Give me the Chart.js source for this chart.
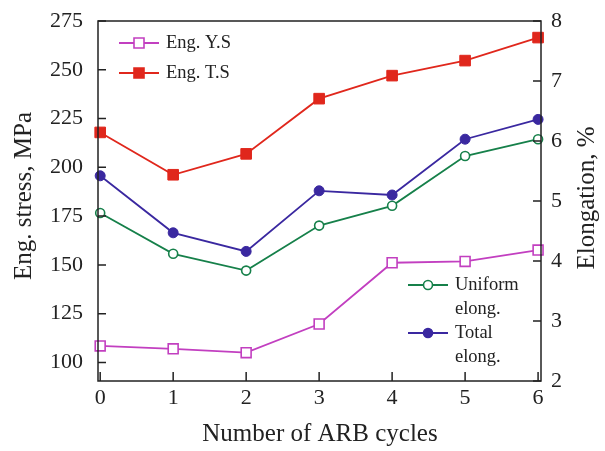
<!DOCTYPE html>
<html lang="en">
<head>
  <meta charset="UTF-8">
  <title>Stress and elongation vs ARB cycles</title>
  <script src="https://cdn.jsdelivr.net/npm/chart.js"></script>
  <style>
    html, body { margin: 0; padding: 0; background: #fff; }
    #wrap { width: 605px; height: 451px; position: relative; }
  </style>
</head>
<body>
  <div id="wrap"><canvas id="chart" width="605" height="451"></canvas></div>

  <script>
    // data
    const cycles = [0, 1, 2, 3, 4, 5, 6];
    const yieldStress = [108.5, 107, 105, 119.7, 151.1, 151.8, 157.6];      // Eng. Y.S, MPa
    const tensileStress = [217.9, 196.2, 206.9, 235.2, 247, 254.7, 266.5];  // Eng. T.S, MPa
    const uniformElong = [4.80, 4.12, 3.84, 4.59, 4.92, 5.75, 6.03];        // %
    const totalElong = [5.42, 4.47, 4.16, 5.17, 5.10, 6.03, 6.36];          // %

    const cycleTicks = [0, 1, 2, 3, 4, 5, 6];
    const stressTicks = [100, 125, 150, 175, 200, 225, 250, 275];
    const elongTicks = [2, 3, 4, 5, 6, 7, 8];

    const FONT = '"Liberation Serif", "DejaVu Serif", serif';
    const INK = '#222';

    const toXY = (ys) => ys.map((y, i) => ({ x: cycles[i], y: y }));

    function drawMarker(ctx, style, filled, color, x, y) {
      ctx.save();
      ctx.lineWidth = 1.6;
      ctx.strokeStyle = color;
      ctx.fillStyle = filled ? color : '#fff';
      ctx.beginPath();
      if (style === 'rect') {
        ctx.rect(x - 5, y - 5, 10, 10);
      } else {
        ctx.arc(x, y, 4.5, 0, Math.PI * 2);
      }
      ctx.fill();
      ctx.stroke();
      ctx.restore();
    }

    // no extra room for overflowing tick labels, the frame is placed by hand
    function fixVertical(width) {
      return s => { s.width = width; s.paddingTop = 0; s.paddingBottom = 0; };
    }

    // frame, inward ticks, axis titles and in-plot legends
    const decorPlugin = {
      id: 'decor',
      afterDraw(chart) {
        const ctx = chart.ctx;
        const a = chart.chartArea;
        const sx = chart.scales.x, sl = chart.scales.yL, sr = chart.scales.yR;
        ctx.save();
        ctx.strokeStyle = INK;
        ctx.lineWidth = 1.5;
        ctx.strokeRect(a.left, a.top, a.right - a.left, a.bottom - a.top);

        ctx.beginPath();
        stressTicks.forEach(v => {
          const y = sl.getPixelForValue(v);
          ctx.moveTo(a.left, y); ctx.lineTo(a.left + 8, y);
        });
        elongTicks.forEach(v => {
          const y = sr.getPixelForValue(v);
          ctx.moveTo(a.right, y); ctx.lineTo(a.right - 8, y);
        });
        cycleTicks.forEach(v => {
          const x = sx.getPixelForValue(v);
          ctx.moveTo(x, a.bottom); ctx.lineTo(x, a.bottom - 9);
        });
        ctx.stroke();

        // axis titles
        ctx.fillStyle = INK;
        ctx.font = '25px ' + FONT;
        ctx.textAlign = 'center';
        ctx.textBaseline = 'middle';
        ctx.fillText('Number of ARB cycles', 320, 434);

        ctx.save();
        ctx.translate(24, 196);
        ctx.rotate(-Math.PI / 2);
        ctx.fillText('Eng. stress, MPa', 0, 0);
        ctx.restore();

        ctx.save();
        ctx.translate(587, 198);
        ctx.rotate(-Math.PI / 2);
        ctx.fillText('Elongation, %', 0, 0);
        ctx.restore();

        // legends
        const legend = [
          { ds: 0, x: 119, y: 43, lines: ['Eng. Y.S'] },
          { ds: 1, x: 119, y: 73, lines: ['Eng. T.S'] },
          { ds: 2, x: 408, y: 285, lines: ['Uniform', 'elong.'] },
          { ds: 3, x: 408, y: 333, lines: ['Total', 'elong.'] }
        ];
        ctx.font = '18.5px ' + FONT;
        ctx.textAlign = 'left';
        legend.forEach(item => {
          const d = chart.data.datasets[item.ds];
          ctx.strokeStyle = d.borderColor;
          ctx.lineWidth = 1.8;
          ctx.beginPath();
          ctx.moveTo(item.x, item.y);
          ctx.lineTo(item.x + 40, item.y);
          ctx.stroke();
          drawMarker(ctx, d.pointStyle, d.pointBackgroundColor !== '#fff', d.borderColor, item.x + 20, item.y);
          ctx.fillStyle = INK;
          item.lines.forEach((t, k) => ctx.fillText(t, item.x + 47, item.y + k * 24));
        });
        ctx.restore();
      }
    };

    const ctx = document.getElementById('chart').getContext('2d');
    new Chart(ctx, {
      type: 'line',
      data: {
        datasets: [
          {
            label: 'Eng. Y.S',
            data: toXY(yieldStress),
            yAxisID: 'yL',
            borderColor: '#c23fc0',
            pointBackgroundColor: '#fff',
            pointStyle: 'rect',
            pointRadius: 7,
            pointBorderWidth: 1.6
          },
          {
            label: 'Eng. T.S',
            data: toXY(tensileStress),
            yAxisID: 'yL',
            borderColor: '#e0271c',
            pointBackgroundColor: '#e0271c',
            pointStyle: 'rect',
            pointRadius: 7.5,
            pointBorderWidth: 1
          },
          {
            label: 'Uniform elong.',
            data: toXY(uniformElong),
            yAxisID: 'yR',
            borderColor: '#16804a',
            pointBackgroundColor: '#fff',
            pointStyle: 'circle',
            pointRadius: 4.5,
            pointBorderWidth: 1.6
          },
          {
            label: 'Total elong.',
            data: toXY(totalElong),
            yAxisID: 'yR',
            borderColor: '#3a28a0',
            pointBackgroundColor: '#3a28a0',
            pointStyle: 'circle',
            pointRadius: 5,
            pointBorderWidth: 1
          }
        ]
      },
      options: {
        responsive: false,
        animation: false,
        clip: false,
        datasets: { line: { borderWidth: 1.8, tension: 0, fill: false } },
        layout: { padding: { top: 21, left: 0, right: 0, bottom: 0 } },
        plugins: { legend: { display: false }, tooltip: { enabled: false } },
        scales: {
          x: {
            type: 'linear',
            min: -0.03,
            max: 6.04,
            afterBuildTicks: s => { s.ticks = cycleTicks.map(v => ({ value: v })); },
            afterFit: s => { s.height = 70; s.paddingLeft = 0; s.paddingRight = 0; },
            grid: { display: false, drawTicks: false },
            border: { display: false },
            ticks: { color: INK, font: { family: FONT, size: 22 }, padding: 4, maxRotation: 0 }
          },
          yL: {
            type: 'linear',
            position: 'left',
            min: 90.5,
            max: 275,
            afterBuildTicks: s => { s.ticks = stressTicks.map(v => ({ value: v })); },
            afterFit: fixVertical(98),
            grid: { display: false, drawTicks: false },
            border: { display: false },
            ticks: { color: INK, font: { family: FONT, size: 22 }, padding: 15 }
          },
          yR: {
            type: 'linear',
            position: 'right',
            min: 2,
            max: 8,
            afterBuildTicks: s => { s.ticks = elongTicks.map(v => ({ value: v })); },
            afterFit: fixVertical(64),
            grid: { display: false, drawTicks: false },
            border: { display: false },
            ticks: { color: INK, font: { family: FONT, size: 22 }, padding: 10 }
          }
        }
      },
      plugins: [decorPlugin]
    });
  </script>
</body>
</html>
